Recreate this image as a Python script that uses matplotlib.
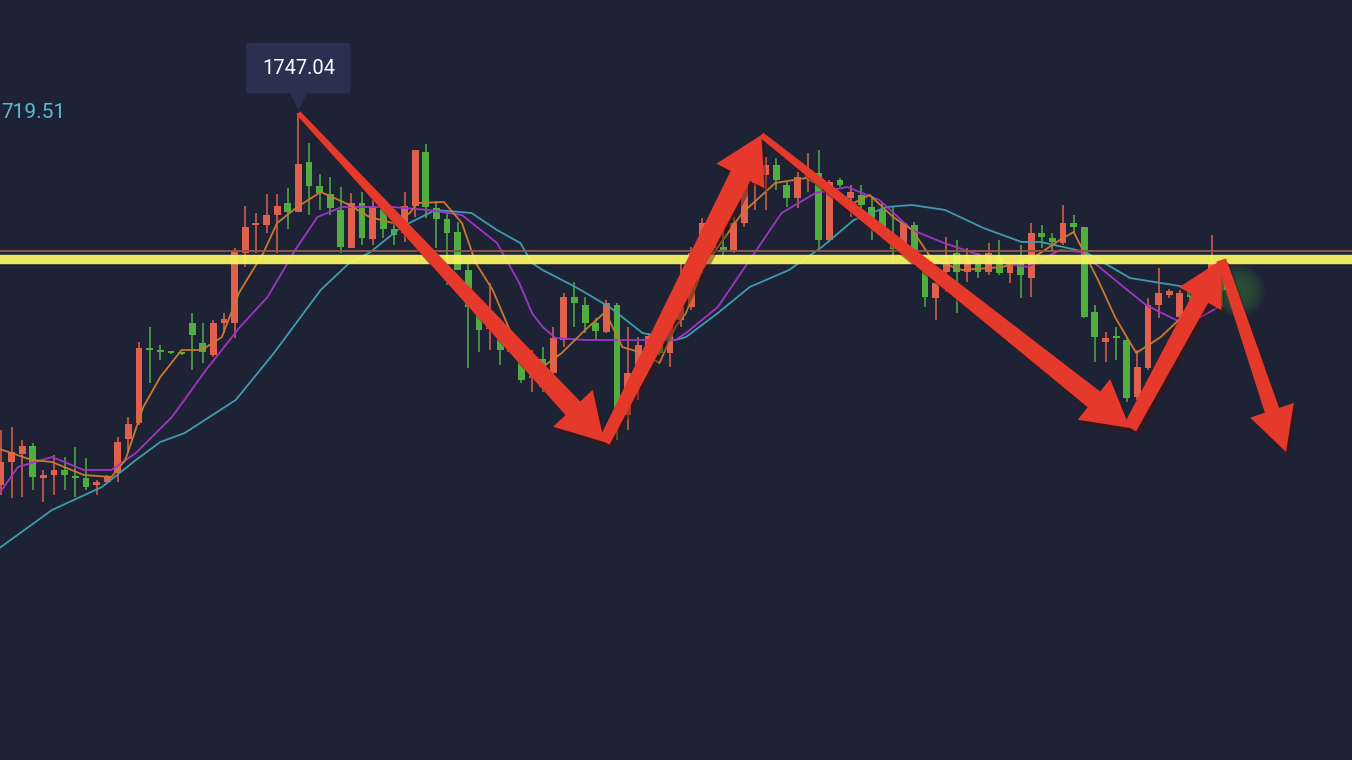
import numpy as np
import matplotlib
matplotlib.use('Agg')
import matplotlib.pyplot as plt
from matplotlib.patches import Polygon
from matplotlib.transforms import IdentityTransform, offset_copy
import matplotlib.patheffects as pe

# OHLC candles (red = up, green = down)
opens = [1709.8, 1712.1, 1712.9, 1713.7, 1710.5, 1710.8, 1711.3, 1710.7, 1710.5, 1709.8,
         1710.1, 1711.0, 1714.4, 1716.0, 1723.4, 1723.2, 1723.1, 1723.0, 1726.0, 1724.0,
         1722.8, 1726.0, 1726.0, 1733.0, 1735.8, 1735.8, 1736.8, 1738.0, 1737.1, 1742.1,
         1739.7, 1738.9, 1737.3, 1733.5, 1738.0, 1734.4, 1737.4, 1735.4, 1735.0, 1737.7,
         1743.1, 1737.5, 1736.4, 1735.1, 1731.3, 1727.5, 1725.4, 1725.0, 1723.1, 1722.4,
         1720.5, 1722.4, 1721.0, 1724.3, 1728.6, 1727.8, 1726.0, 1725.1, 1727.8, 1716.8,
         1721.0, 1723.6, 1724.3, 1723.0, 1726.3, 1727.6, 1731.6, 1734.0, 1733.6, 1733.1,
         1736.0, 1740.0, 1740.8, 1741.8, 1739.8, 1738.5, 1740.5, 1741.0, 1734.3, 1740.3,
         1738.5, 1738.8, 1737.6, 1737.3, 1734.0, 1733.5, 1735.8, 1731.6, 1728.5, 1731.1,
         1733.0, 1731.1, 1732.0, 1731.1, 1732.6, 1731.0, 1732.3, 1730.5, 1735.0, 1734.5,
         1734.0, 1736.0, 1735.6, 1727.1, 1724.1, 1724.7, 1724.3, 1718.6, 1721.5, 1727.8,
         1728.8, 1726.6, 1729.3, 1729.1, 1730.3, 1731.3]
highs = [1715.3, 1715.6, 1714.3, 1714.0, 1711.3, 1712.8, 1712.6, 1713.6, 1712.5, 1710.3,
         1710.8, 1714.6, 1716.6, 1724.1, 1725.6, 1723.8, 1723.2, 1723.1, 1727.0, 1726.0,
         1726.3, 1727.0, 1733.5, 1737.7, 1737.0, 1738.9, 1738.9, 1739.5, 1747.04, 1744.0,
         1740.9, 1740.6, 1739.6, 1739.0, 1739.1, 1738.3, 1737.8, 1736.5, 1739.1, 1743.3,
         1743.9, 1738.2, 1737.0, 1736.1, 1732.0, 1728.6, 1730.0, 1725.6, 1724.0, 1722.6,
         1723.3, 1723.6, 1725.6, 1729.0, 1730.1, 1728.6, 1726.5, 1728.3, 1728.0, 1725.6,
         1724.6, 1725.0, 1725.6, 1726.6, 1732.0, 1733.6, 1736.5, 1736.3, 1736.3, 1736.6,
         1741.3, 1743.0, 1742.6, 1742.5, 1740.1, 1741.1, 1743.0, 1743.3, 1740.3, 1740.5,
         1739.8, 1739.8, 1738.6, 1738.0, 1737.6, 1736.1, 1736.1, 1732.3, 1730.5, 1734.6,
         1734.3, 1733.5, 1733.0, 1734.0, 1734.3, 1732.3, 1733.8, 1736.0, 1735.8, 1735.0,
         1737.8, 1736.8, 1735.6, 1727.8, 1725.1, 1725.6, 1724.5, 1723.3, 1728.5, 1731.5,
         1729.4, 1729.3, 1729.8, 1730.8, 1734.8, 1731.8]
lows = [1708.8, 1708.5, 1708.6, 1709.3, 1708.1, 1708.8, 1709.3, 1708.6, 1709.3, 1708.8,
        1710.0, 1710.1, 1713.0, 1715.8, 1720.0, 1722.3, 1722.9, 1722.8, 1721.3, 1722.0,
        1722.6, 1725.0, 1724.5, 1731.6, 1733.0, 1735.0, 1733.0, 1735.4, 1737.1, 1736.8,
        1737.3, 1736.8, 1733.0, 1733.5, 1733.8, 1733.8, 1734.5, 1733.8, 1734.1, 1736.6,
        1736.5, 1733.5, 1729.8, 1731.3, 1721.5, 1723.1, 1723.3, 1721.8, 1723.0, 1720.0,
        1719.1, 1719.1, 1720.0, 1723.6, 1725.6, 1725.0, 1724.3, 1725.0, 1714.3, 1715.3,
        1718.3, 1722.3, 1722.8, 1721.6, 1725.6, 1727.3, 1731.0, 1733.0, 1732.6, 1733.0,
        1735.6, 1737.3, 1737.3, 1739.3, 1737.6, 1737.5, 1739.1, 1733.5, 1734.1, 1739.6,
        1736.6, 1737.0, 1734.3, 1734.6, 1732.0, 1733.3, 1732.8, 1727.6, 1726.3, 1729.1,
        1727.0, 1730.1, 1730.5, 1730.8, 1730.8, 1730.0, 1728.5, 1728.6, 1733.5, 1733.1,
        1733.8, 1735.0, 1726.5, 1722.1, 1722.1, 1722.3, 1718.1, 1718.3, 1721.3, 1726.5,
        1728.5, 1726.3, 1728.3, 1728.8, 1730.0, 1727.6]
closes = [1712.1, 1713.1, 1713.7, 1710.6, 1710.8, 1711.3, 1710.8, 1710.5, 1709.6, 1710.1,
          1710.6, 1714.1, 1715.9, 1723.5, 1723.3, 1723.1, 1723.0, 1722.9, 1724.8, 1723.1,
          1726.0, 1726.4, 1733.3, 1735.6, 1736.0, 1736.8, 1737.7, 1737.1, 1741.9, 1739.7,
          1739.0, 1737.5, 1733.6, 1738.0, 1734.5, 1737.6, 1735.4, 1734.8, 1737.7, 1743.3,
          1737.6, 1736.4, 1735.0, 1731.3, 1727.6, 1725.3, 1725.6, 1723.3, 1723.3, 1720.3,
          1722.8, 1719.6, 1724.5, 1728.6, 1728.0, 1726.0, 1725.2, 1728.0, 1717.0, 1721.0,
          1723.8, 1724.7, 1723.0, 1726.3, 1727.6, 1733.0, 1736.0, 1733.5, 1733.1, 1736.0,
          1740.0, 1740.8, 1741.8, 1740.3, 1738.5, 1740.6, 1741.0, 1734.3, 1740.1, 1739.8,
          1739.1, 1737.8, 1736.5, 1735.1, 1733.4, 1736.0, 1733.0, 1728.6, 1730.0, 1732.0,
          1731.1, 1732.3, 1731.1, 1733.0, 1731.0, 1732.0, 1730.8, 1735.0, 1734.6, 1734.1,
          1736.0, 1735.6, 1726.6, 1724.6, 1724.5, 1724.5, 1718.5, 1721.6, 1727.8, 1729.0,
          1729.2, 1729.0, 1728.6, 1730.3, 1732.1, 1729.3]

# moving averages (candle index, price)
ma5_x = [-0.4, 2.9, 4.8, 7.8, 10.4, 11.7, 13.4, 15.0, 17.0, 18.9, 20.8, 22.4, 24.7, 26.0, 27.9,
         30.1, 31.8, 32.8, 34.7, 36.9, 38.5, 39.2, 41.7, 43.4, 44.7, 46.3, 47.9, 51.0, 52.8, 55.0,
         56.9, 58.5, 60.4, 62.0, 63.5, 64.5, 66.0, 67.5, 69.8, 72.9, 75.8, 77.9, 80.3, 81.8, 84.0,
         85.8, 87.7, 90.5, 94.3, 97.3, 99.7, 101.0, 103.3, 104.9, 106.0, 106.9, 109.2, 110.6, 112.8, 115.0]
ma5_y = [1713.5, 1712.3, 1712.1, 1710.8, 1710.6, 1712.3, 1717.6, 1720.6, 1723.3, 1723.3,
         1724.6, 1729.0, 1733.0, 1736.0, 1737.6, 1739.1, 1738.3, 1737.8, 1736.6, 1736.0,
         1737.0, 1738.0, 1738.1, 1736.0, 1732.0, 1729.3, 1725.3, 1721.6, 1723.0, 1725.3,
         1727.1, 1723.6, 1723.0, 1722.0, 1725.6, 1727.0, 1731.3, 1733.6, 1737.0, 1740.0,
         1740.5, 1739.3, 1738.0, 1738.8, 1736.6, 1735.3, 1732.3, 1731.3, 1731.6, 1732.6,
         1734.3, 1735.1, 1730.3, 1726.6, 1724.6, 1723.0, 1724.6, 1726.0, 1728.3, 1729.6]
ma10_x = [-0.4, 1.6, 4.8, 7.8, 10.4, 12.7, 16.1, 19.3, 22.5, 25.1, 27.7, 29.8, 32.1, 36.9, 40.2,
          43.4, 46.7, 48.8, 50.0, 51.0, 52.2, 55.0, 58.0, 61.0, 63.5, 64.5, 67.5, 70.5, 73.5, 76.7,
          79.7, 82.7, 85.8, 88.8, 91.3, 94.3, 96.7, 99.7, 101.7, 104.9, 107.8, 111.6, 115.0]
ma10_y = [1708.6, 1711.6, 1712.6, 1711.3, 1711.3, 1713.0, 1716.6, 1721.3, 1725.6, 1728.6,
          1733.3, 1736.6, 1737.6, 1737.6, 1737.3, 1736.8, 1734.0, 1730.0, 1727.0, 1725.6,
          1724.5, 1724.3, 1724.3, 1724.3, 1724.3, 1725.0, 1727.6, 1732.3, 1737.0, 1739.0,
          1739.6, 1738.3, 1735.3, 1734.0, 1733.1, 1732.0, 1731.6, 1733.3, 1733.1, 1730.3,
          1727.8, 1725.8, 1727.8]
ma30_x = [-0.4, 3.5, 4.8, 9.5, 12.7, 15.0, 17.3, 22.1, 25.7, 30.1, 32.8, 34.8, 37.7, 40.9, 44.3,
          46.7, 48.9, 50.0, 51.0, 54.1, 57.3, 60.4, 63.5, 64.5, 67.5, 70.5, 74.2, 77.3, 80.3, 83.4,
          85.8, 88.9, 92.5, 96.1, 97.9, 102.1, 106.3, 109.2, 112.2, 115.0]
ma30_y = [1703.3, 1706.3, 1707.3, 1709.6, 1712.3, 1714.1, 1715.0, 1718.3, 1723.0, 1729.3,
          1732.0, 1733.1, 1735.6, 1737.3, 1737.0, 1735.3, 1734.0, 1732.0, 1731.3, 1729.6,
          1727.6, 1725.0, 1724.3, 1724.6, 1727.0, 1729.6, 1731.3, 1733.6, 1736.3, 1737.6,
          1737.8, 1737.3, 1735.5, 1734.1, 1734.1, 1733.1, 1730.5, 1730.0, 1729.5, 1729.3]

support_level = 1732.45
price_line = 1733.2
ma_label = "719.51"

# hand drawn zigzag arrows (candle index, price)
zig_x = [28, 56.8, 71.6, 106.3, 114.9, 121.0]
zig_y = [1747.0, 1714.1, 1744.8, 1715.5, 1732.3, 1713.1]
# start width, end width, head width, head length (pixels)
arrow_shape = [(5, 20, 54, 46), (12, 22, 54, 46), (6, 20, 52, 46), (14, 18, 48, 44), (10, 15, 46, 44)]

bg = '#1e2235'
up_col = '#e0604b'
down_col = '#4fae3f'

plt.rcParams['font.family'] = ['Roboto', 'DejaVu Sans']
fig = plt.figure(figsize=(13.52, 7.6), dpi=100, facecolor=bg)
ax = fig.add_axes([0, 0, 1, 1])
ax.set_facecolor(bg)
ax.set_xlim(-0.094, 127.21)
ax.set_ylim(1682.3, 1758.3)
ax.axis('off')

o = np.array(opens); h = np.array(highs); l = np.array(lows); c = np.array(closes)
idx = np.arange(len(o))
cols = np.where(c >= o, up_col, down_col)
ax.vlines(idx, l, h, colors=cols, linewidth=1.1, zorder=2)
body = np.maximum(np.abs(c - o), 0.2)
ax.bar(idx, body, bottom=np.minimum(o, c), width=0.64, color=cols, linewidth=0, zorder=3)

ax.plot(ma30_x, ma30_y, color='#3e9cae', lw=1.3, zorder=4)
ax.plot(ma10_x, ma10_y, color='#a133c9', lw=1.3, zorder=4)
ax.plot(ma5_x, ma5_y, color='#c9792f', lw=1.3, zorder=4)

ax.axhline(price_line, color='#8a5848', lw=1.4, zorder=5)
ax.axhline(support_level, color='#f7f462', lw=6.8, alpha=0.95, zorder=5)

# soft green glow on last candle
for s in np.linspace(1500, 120, 12):
    ax.scatter([len(o) + 0.5], [closes[-1]], s=s, color='#62e850', alpha=0.025, lw=0, zorder=6)

# tooltip over the top
hi_i = int(np.argmax(h))
ax.annotate(f"{h[hi_i]:.2f}", xy=(hi_i, h[hi_i]), xytext=(0, 32), textcoords='offset points',
            ha='center', va='center', color='white', fontsize=14.5, zorder=8,
            bbox=dict(boxstyle='round,pad=0.78,rounding_size=0.2', fc='#2a3150', ec='none'))
tri = offset_copy(ax.transData, fig=fig, x=0, y=10, units='points')
ax.plot([hi_i], [h[hi_i]], marker='v', ms=13, color='#2a3150', transform=tri, zorder=8)

ax.text(1 / 1352, 1 - 113 / 760, ma_label, transform=ax.transAxes, color='#5bbccf',
        fontsize=15, ha='left', va='center', zorder=8)

# arrows
pts = ax.transData.transform(np.column_stack([zig_x, zig_y]))
for k, (w0, w1, hw, hl) in enumerate(arrow_shape):
    p0, p1 = pts[k], pts[k + 1]
    d = (p1 - p0) / np.hypot(*(p1 - p0))
    n = np.array([-d[1], d[0]])
    base = p1 - d * hl
    poly = [p0 + n * w0 / 2, base + n * w1 / 2, base + n * hw / 2, p1,
            base - n * hw / 2, base - n * w1 / 2, p0 - n * w0 / 2]
    ax.add_patch(Polygon(poly, closed=True, transform=IdentityTransform(), fc='#e5392b', ec='none',
                         zorder=9, path_effects=[pe.SimplePatchShadow(offset=(2, -3), alpha=0.45),
                                                 pe.Normal()]))

fig.savefig('out.png', dpi=100, facecolor=bg)
